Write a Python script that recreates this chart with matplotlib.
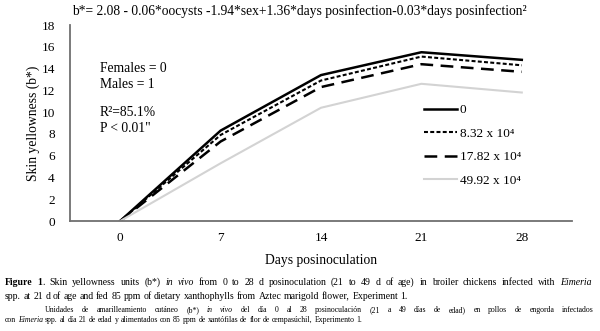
import matplotlib
matplotlib.use("Agg")
import matplotlib.pyplot as plt

plt.rcParams['font.family'] = ['Liberation Serif', 'DejaVu Serif']

days = [0, 7, 14, 21, 28]
series_labels = ["0", "8.32 x 10\u2074", "17.82 x 10\u2074", "49.92 x 10\u2074"]
s0 = [0, 8.3, 13.4, 15.5, 14.8]
s1 = [0, 7.9, 12.9, 15.1, 14.3]
s2 = [0, 7.3, 12.3, 14.4, 13.7]
s3 = [0, 5.3, 10.4, 12.6, 11.8]
yticks = list(range(0, 20, 2))

fig = plt.figure(figsize=(6.0, 3.31), dpi=100)
W, H = 600, 331
ax = fig.add_axes([70 / W, 1 - 221 / H, (572 - 70) / W, (221 - 25) / H])

styles = [
    dict(color='black', lw=1.8, linestyle='-'),
    dict(color='black', lw=1.5, linestyle=(0, (1.9, 1.1))),
    dict(color='black', lw=1.8, linestyle=(0, (5.1, 3.0))),
    dict(color='#d3d3d3', lw=1.5, linestyle='-'),
]
for vals, lab, st in zip([s0, s1, s2, s3], series_labels, styles):
    ax.plot(days, vals, label=lab, **st)

ax.set_xlim(-3.5, 31.5)
ax.set_ylim(0, 18)
ax.set_xticks(days)
ax.set_yticks(yticks)
ax.tick_params(axis='both', length=0, labelsize=9.5)
ax.tick_params(axis='y', pad=11)
ax.tick_params(axis='x', pad=8)
for s in ['top', 'right']:
    ax.spines[s].set_visible(False)
for s in ['left', 'bottom']:
    ax.spines[s].set_color('#707070')
    ax.spines[s].set_linewidth(1.3)

ax.set_xlabel("Days posinoculation", fontsize=9.8, labelpad=7)
ax.set_ylabel("Skin yellowness (b*)", fontsize=9.8, labelpad=1)

leg = ax.legend(loc='upper left', bbox_to_anchor=(424 / W, 1 - 104 / H),
                bbox_transform=fig.transFigure, frameon=False, fontsize=9.5,
                handlelength=2.5, handletextpad=0.2, labelspacing=0.85,
                borderpad=0, borderaxespad=0)

fig.text(100 / W, 1 - 68 / H, "Females = 0", fontsize=9.8, va='center', ha='left')
fig.text(100 / W, 1 - 84 / H, "Males = 1", fontsize=9.8, va='center', ha='left')
fig.text(100 / W, 1 - 113 / H, "R\u00b2=85.1%", fontsize=9.8, va='center', ha='left')
fig.text(100 / W, 1 - 128 / H, "P < 0.01\"", fontsize=9.8, va='center', ha='left')

fig.text(72 / W, 1 - 11 / H,
         "b*= 2.08 - 0.06*oocysts -1.94*sex+1.36*days posinfection-0.03*days posinfection\u00b2",
         fontsize=9.75, va='center', ha='left')

renderer = fig.canvas.get_renderer()


def tokens_from(runs):
    """runs: list of (text, kw). Returns list of words; each word is a list of (text, kw) runs."""
    words = [[]]
    for txt, kw in runs:
        parts = txt.split(' ')
        for i, p in enumerate(parts):
            if i > 0:
                words.append([])
            if p:
                words[-1].append((p, kw))
    return [w for w in words if w]


def place_line(runs, x0, y0, size, x1=None):
    words = tokens_from(runs)
    objs = []
    widths = []
    for w in words:
        wo = []
        ww = 0
        for txt, kw in w:
            t = fig.text(0, 1 - y0 / H, txt, fontsize=size, va='baseline', ha='left', **kw)
            wd = t.get_window_extent(renderer).width
            wo.append((t, wd))
            ww += wd
        objs.append(wo)
        widths.append(ww)
    sp = fig.text(0, 0, "a a", fontsize=size)
    sp2 = fig.text(0, 0, "aa", fontsize=size)
    space = sp.get_window_extent(renderer).width - sp2.get_window_extent(renderer).width
    sp.remove(); sp2.remove()
    if x1 is not None and len(words) > 1:
        gap = (x1 - x0 - sum(widths)) / (len(words) - 1)
    else:
        gap = space
    x = x0
    for wo in objs:
        for t, wd in wo:
            t.set_x(x / W)
            x += wd
        x += gap


cap1 = [("Figure 1", dict(fontweight='bold')),
        (".  Skin yellowness units (b*) ", {}),
        ("in vivo", dict(style='italic')),
        (" from 0 to 28 d posinoculation (21 to 49 d of age) in broiler chickens infected with ", {}),
        ("Eimeria", dict(style='italic'))]
cap2 = [("spp. at 21 d of age and fed 85 ppm of dietary xanthophylls from Aztec marigold flower, Experiment 1.", {})]
cap3 = [("Unidades de amarilleamiento cut\u00e1neo (b*) ", {}),
        ("in vivo", dict(style='italic')),
        (" del d\u00eda 0 al 28 posinoculaci\u00f3n (21 a 49 d\u00edas de edad) en pollos de engorda infectados", {})]
cap4 = [("con ", {}), ("Eimeria", dict(style='italic')),
        (" spp. al d\u00eda 21 de edad y alimentados con 85 ppm de xant\u00f3filas de flor de cempas\u00fachil, Experimento 1.", {})]

place_line(cap1, 5, 285, 7.0, x1=592)
place_line(cap2, 5, 299, 7.0)
place_line(cap3, 45, 312, 5.6, x1=594)
place_line(cap4, 5, 322.5, 5.6)

fig.savefig("out.png", dpi=100)
